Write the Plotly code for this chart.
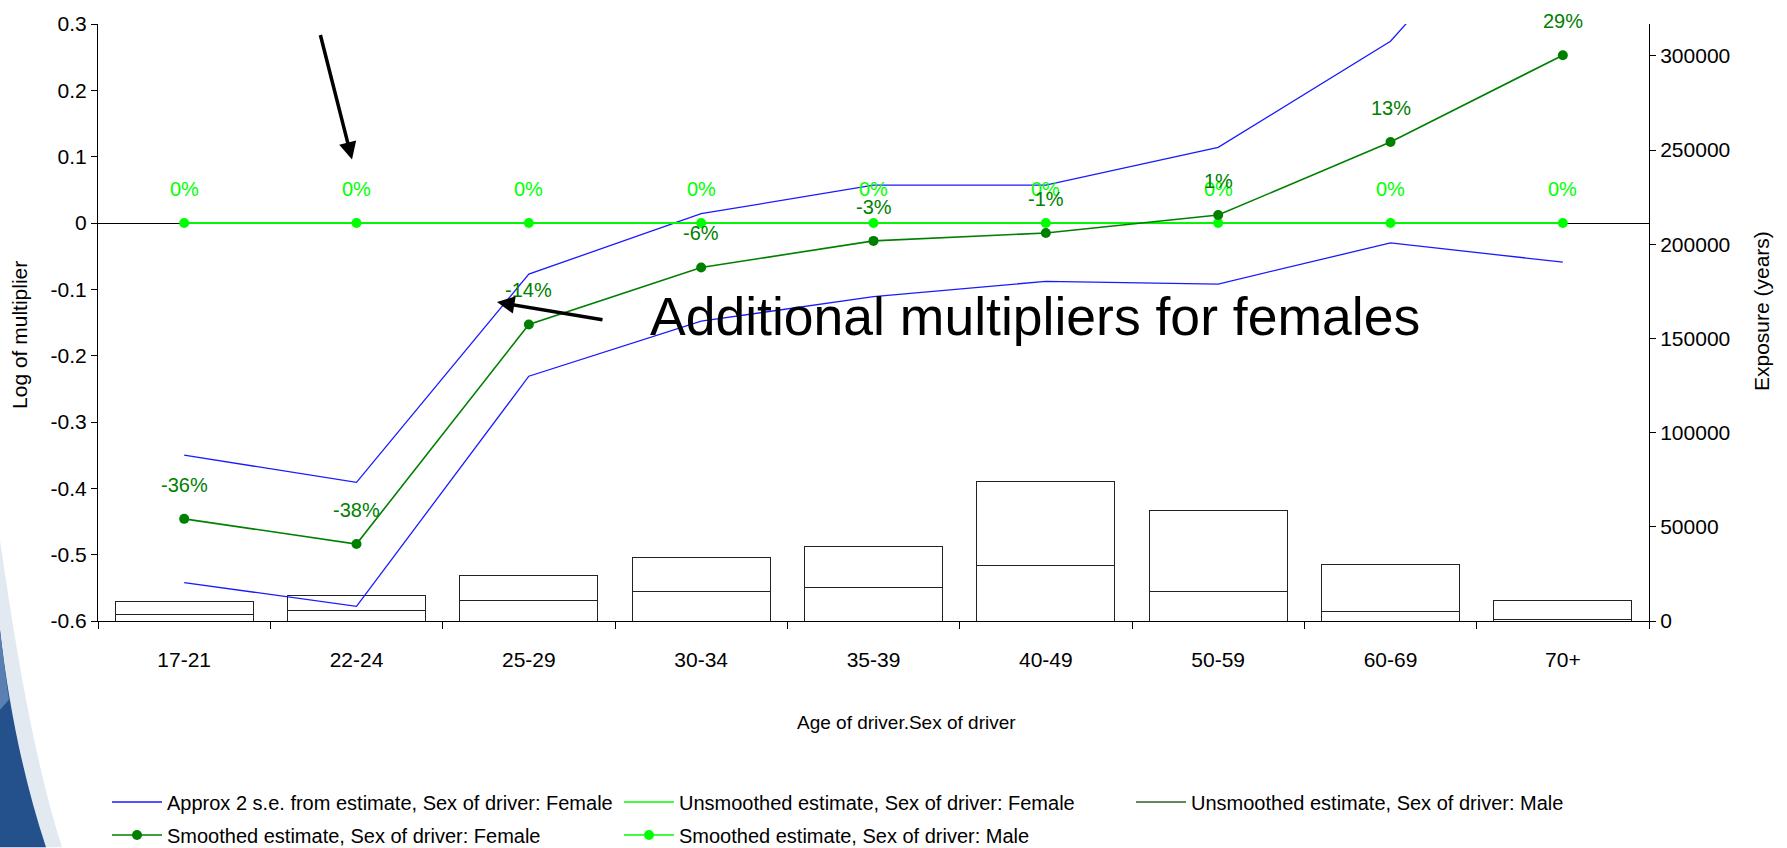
import math
import plotly.graph_objects as go

# ---- data -------------------------------------------------------------
age_bands = ["17-21", "22-24", "25-29", "30-34", "35-39", "40-49", "50-59", "60-69", "70+"]

# log multipliers
smoothed_female = [-0.446, -0.484, -0.153, -0.067, -0.027, -0.015, 0.012, 0.122, 0.253]
smoothed_male = [0, 0, 0, 0, 0, 0, 0, 0, 0]
unsmoothed_female = [0, 0, 0, 0, 0, 0, 0, 0, 0]
unsmoothed_male = [0, 0, 0, 0, 0, 0, 0, 0, 0]
se_upper_female = [-0.350, -0.391, -0.077, 0.014, 0.057, 0.057, 0.114, 0.274, 0.565]
se_lower_female = [-0.542, -0.578, -0.231, -0.148, -0.111, -0.088, -0.092, -0.030, -0.059]

# exposure (years)
exposure_female = [3700, 5650, 11000, 15900, 17700, 29600, 15700, 4800, 900]
exposure_male = [6850, 7750, 13300, 18000, 21600, 44400, 43200, 25450, 9800]

left_tick_vals = [-0.6, -0.5, -0.4, -0.3, -0.2, -0.1, 0, 0.1, 0.2, 0.3]
left_tick_text = ["-0.6", "-0.5", "-0.4", "-0.3", "-0.2", "-0.1", "0", "0.1", "0.2", "0.3"]
right_tick_vals = [0, 50000, 100000, 150000, 200000, 250000, 300000]

# ---- styling ----------------------------------------------------------
FONT = "Liberation Sans, Arial, sans-serif"
W, H = 1787, 848
ML, MR, MT, MB = 98, 138, 22, 227
BLUE = "#1a1aff"
DARK_GREEN = "#008000"
LIME = "#00ff00"
UNSM_MALE = "#2f5f2f"
TICK_SIZE = 21


def pct_label(v):
    p = round((math.exp(v) - 1) * 100)
    return f"{int(p)}%"


# pixel -> paper helpers for slide decorations
def px(x):
    return (x - ML) / (W - ML - MR)


def py(y):
    return (H - MB - y) / (H - MT - MB)


fig = go.Figure()

# exposure bars (drawn underneath, on the right-hand axis)
bar_marker = dict(color="white", line=dict(color="#222", width=1))
fig.add_trace(go.Bar(x=age_bands, y=exposure_female, yaxis="y", marker=bar_marker,
                     showlegend=False, hoverinfo="skip"))
fig.add_trace(go.Bar(x=age_bands, y=exposure_male, yaxis="y", marker=bar_marker,
                     showlegend=False, hoverinfo="skip"))

# multiplier lines (left-hand axis)
fig.add_trace(go.Scatter(x=age_bands, y=se_upper_female, yaxis="y2", mode="lines",
                         line=dict(color=BLUE, width=1.3),
                         name="Approx 2 s.e. from estimate, Sex of driver: Female",
                         legend="legend", legendgroup="se", legendrank=1))
fig.add_trace(go.Scatter(x=age_bands, y=se_lower_female, yaxis="y2", mode="lines",
                         line=dict(color=BLUE, width=1.3), legendgroup="se",
                         showlegend=False))
fig.add_trace(go.Scatter(x=age_bands, y=unsmoothed_male, yaxis="y2", mode="lines",
                         line=dict(color=UNSM_MALE, width=1.4),
                         name="Unsmoothed estimate, Sex of driver: Male",
                         legend="legend", legendrank=3))
fig.add_trace(go.Scatter(x=age_bands, y=unsmoothed_female, yaxis="y2", mode="lines",
                         line=dict(color=LIME, width=1.4),
                         name="Unsmoothed estimate, Sex of driver: Female",
                         legend="legend", legendrank=2))
fig.add_trace(go.Scatter(x=age_bands, y=smoothed_male, yaxis="y2", mode="lines+markers",
                         line=dict(color=LIME, width=1.6),
                         marker=dict(color=LIME, size=10),
                         name="Smoothed estimate, Sex of driver: Male",
                         legend="legend2", legendrank=2))
fig.add_trace(go.Scatter(x=age_bands, y=smoothed_female, yaxis="y2", mode="lines+markers",
                         line=dict(color=DARK_GREEN, width=1.6),
                         marker=dict(color=DARK_GREEN, size=10),
                         name="Smoothed estimate, Sex of driver: Female",
                         legend="legend2", legendrank=1))

annotations = []
# percentage labels above each point
for cat, v in zip(age_bands, smoothed_male):
    annotations.append(dict(x=cat, y=v, xref="x", yref="y2", text=pct_label(v),
                            showarrow=False, yshift=34,
                            font=dict(family=FONT, size=20, color=LIME)))
for cat, v in zip(age_bands, smoothed_female):
    annotations.append(dict(x=cat, y=v, xref="x", yref="y2", text=pct_label(v),
                            showarrow=False, yshift=34,
                            font=dict(family=FONT, size=20, color=DARK_GREEN)))

# axis titles
annotations.append(dict(x=px(906), y=py(723), xref="paper", yref="paper",
                        xanchor="center", yanchor="middle",
                        showarrow=False, text="Age of driver.Sex of driver",
                        font=dict(family=FONT, size=19, color="black")))
annotations.append(dict(x=px(20), y=py(334), xref="paper", yref="paper",
                        xanchor="center", yanchor="middle",
                        showarrow=False, text="Log of multiplier", textangle=-90,
                        font=dict(family=FONT, size=21, color="black")))
annotations.append(dict(x=px(1761), y=py(310), xref="paper", yref="paper",
                        xanchor="center", yanchor="middle",
                        showarrow=False, text="Exposure (years)", textangle=-90,
                        font=dict(family=FONT, size=21, color="black")))

# callout text and arrows
annotations.append(dict(x=px(648), y=py(315), xref="paper", yref="paper",
                        xanchor="left", yanchor="middle", showarrow=False,
                        text="Additional multipliers for females",
                        font=dict(family=FONT, size=53.5, color="black")))
annotations.append(dict(x=px(497), y=py(301), xref="paper", yref="paper",
                        ax=107, ay=18, text="", showarrow=True,
                        arrowhead=2, arrowsize=1, arrowwidth=3.5, arrowcolor="black"))
annotations.append(dict(x=px(352), y=py(158), xref="paper", yref="paper",
                        ax=-32, ay=-126, text="", showarrow=True,
                        arrowhead=2, arrowsize=1, arrowwidth=3.5, arrowcolor="black"))

# slide background swoosh in the lower-left corner
shapes = [
    dict(type="path", xref="paper", yref="paper", layer="below",
         path=(f"M {px(0)},{py(540)} C {px(16)},{py(650)} {px(34)},{py(760)} {px(62)},{py(848)} "
               f"L {px(0)},{py(848)} Z"),
         fillcolor="#e3e9f1", line=dict(width=0)),
    dict(type="path", xref="paper", yref="paper", layer="below",
         path=(f"M {px(0)},{py(630)} C {px(8)},{py(700)} {px(22)},{py(775)} {px(46)},{py(848)} "
               f"L {px(0)},{py(848)} Z"),
         fillcolor="#24508c", line=dict(width=0)),
    dict(type="path", xref="paper", yref="paper", layer="below",
         path=(f"M {px(0)},{py(630)} C {px(3)},{py(655)} {px(6)},{py(680)} {px(9)},{py(700)} "
               f"L {px(0)},{py(710)} Z"),
         fillcolor="#5b7fb0", line=dict(width=0)),
]

legend_common = dict(orientation="h", xref="container", yref="container",
                     xanchor="left", yanchor="middle", entrywidth=447,
                     entrywidthmode="pixels", itemwidth=50,
                     bgcolor="rgba(0,0,0,0)", tracegroupgap=0,
                     font=dict(family=FONT, size=20, color="black"))

axis_common = dict(showline=True, linecolor="black", linewidth=1, ticks="outside",
                   tickcolor="black", showgrid=False,
                   tickfont=dict(family=FONT, size=TICK_SIZE))

fig.update_layout(
    width=W, height=H, autosize=False,
    margin=dict(l=ML, r=MR, t=MT, b=MB, pad=0),
    paper_bgcolor="white", plot_bgcolor="white",
    font=dict(family=FONT, size=TICK_SIZE, color="black"),
    barmode="stack", bargap=0.2,
    xaxis=dict(axis_common, type="category", tickson="boundaries", ticklen=7,
               zeroline=False, ticklabelstandoff=20),
    yaxis=dict(axis_common, side="right", range=[0, 316900], tickvals=right_tick_vals,
               tickformat="d", ticklen=6, zeroline=False),
    yaxis2=dict(axis_common, side="left", overlaying="y", range=[-0.6, 0.3],
                tickvals=left_tick_vals, ticktext=left_tick_text, ticklen=6,
                zeroline=True, zerolinecolor="black", zerolinewidth=1),
    legend=dict(legend_common, x=107 / W, y=1 - 802 / H),
    legend2=dict(legend_common, x=107 / W, y=1 - 835 / H),
    annotations=annotations,
    shapes=shapes,
)

fig.write_html("out.html")
